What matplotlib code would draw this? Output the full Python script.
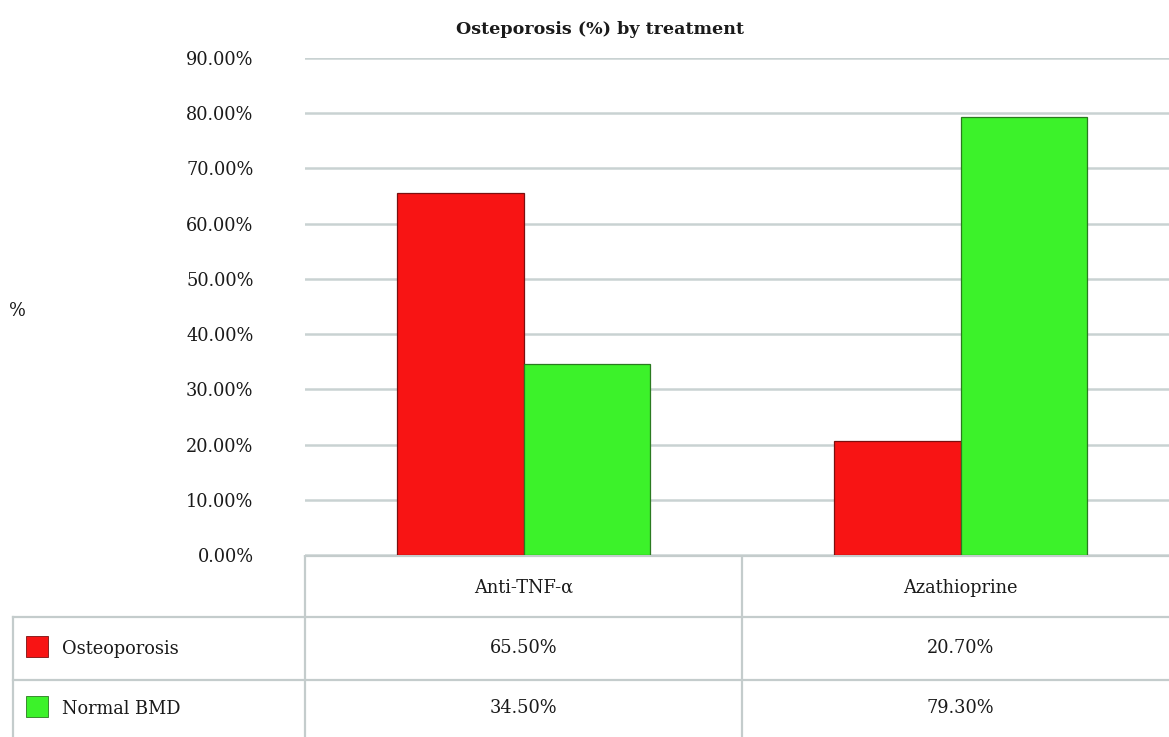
import numpy as np
import matplotlib.pyplot as plt
from matplotlib.lines import Line2D
from matplotlib.patches import Rectangle

treatments = ['Anti-TNF-α', 'Azathioprine']
series_names = ['Osteoporosis', 'Normal BMD']
osteoporosis = [65.5, 20.7]
normal_bmd = [34.5, 79.3]
y_ticks = [0, 10, 20, 30, 40, 50, 60, 70, 80, 90]

colors = ['#f81414', '#3cf22a']
edges = ['#7a1010', '#2a7a20']
grid_col = '#c9d2d2'
text_col = '#1a1a1a'
fs = 12.8

plt.rcParams['font.family'] = ['DejaVu Serif']

W, H = 1169, 737
fig = plt.figure(figsize=(W / 100, H / 100), dpi=100)

# plot area runs a little past the right edge (the source image is cropped)
left, right = 305 / W, 1179 / W
bottom, top = 1 - 555 / H, 1 - 58 / H
ax = fig.add_axes([left, bottom, right - left, top - bottom])

x = np.arange(len(treatments)) + 0.5
bw = 0.29
for i, vals in enumerate([osteoporosis, normal_bmd]):
    offs = (i - 0.5) * bw
    ax.bar(x + offs, vals, width=bw, color=colors[i], edgecolor=edges[i],
           linewidth=0.9, zorder=3)

ax.set_xlim(0, len(treatments))
ax.set_ylim(0, 90)
ax.set_yticks(y_ticks)
ax.set_yticklabels([f'{t:.2f}%' for t in y_ticks], fontsize=fs, color=text_col)
ax.tick_params(axis='y', length=0, pad=37)
ax.set_xticks([])
ax.yaxis.grid(True, color=grid_col, linewidth=1.8, zorder=0)
for s in ax.spines.values():
    s.set_visible(False)

fig.text(600 / W, 1 - 30 / H, 'Osteporosis (%) by treatment', fontsize=12.6,
         fontweight='bold', ha='center', va='center', color=text_col)
fig.text(17 / W, 1 - 311 / H, '%', fontsize=fs, ha='center', va='center', color=text_col)

# data table under the chart
tab = fig.add_axes([0, 0, 1, 1 - 555 / H])
tab.set_xlim(0, W)
tab.set_ylim(737, 555)
tab.axis('off')

col_edges = [305, 742, 1179]
row_edges = [555, 617, 680, 737]
lc = '#c4cccc'
tab.add_line(Line2D([305, 1169], [556, 556], color=lc, lw=1.6))
for y in row_edges[1:3]:
    tab.add_line(Line2D([13, 1169], [y, y], color=lc, lw=1.6))
tab.add_line(Line2D([13, 13], [617, 737], color=lc, lw=1.6))
for xe in col_edges[:2]:
    tab.add_line(Line2D([xe, xe], [555, 737], color=lc, lw=1.6))

for j, name in enumerate(treatments):
    cx = (col_edges[j] + col_edges[j + 1]) / 2
    tab.text(cx, 588, name, fontsize=fs, ha='center', va='center', color=text_col)

for r, (name, vals) in enumerate(zip(series_names, [osteoporosis, normal_bmd])):
    cy = (row_edges[r + 1] + row_edges[r + 2]) / 2
    tab.add_patch(Rectangle((26, cy - 12), 22, 21, facecolor=colors[r],
                            edgecolor=edges[r], lw=0.6))
    tab.text(62, cy + 1, name, fontsize=fs, ha='left', va='center', color=text_col)
    for j, v in enumerate(vals):
        cx = (col_edges[j] + col_edges[j + 1]) / 2
        tab.text(cx, cy, f'{v:.2f}%', fontsize=fs, ha='center', va='center',
                 color=text_col)

fig.savefig('out.png', dpi=100)
